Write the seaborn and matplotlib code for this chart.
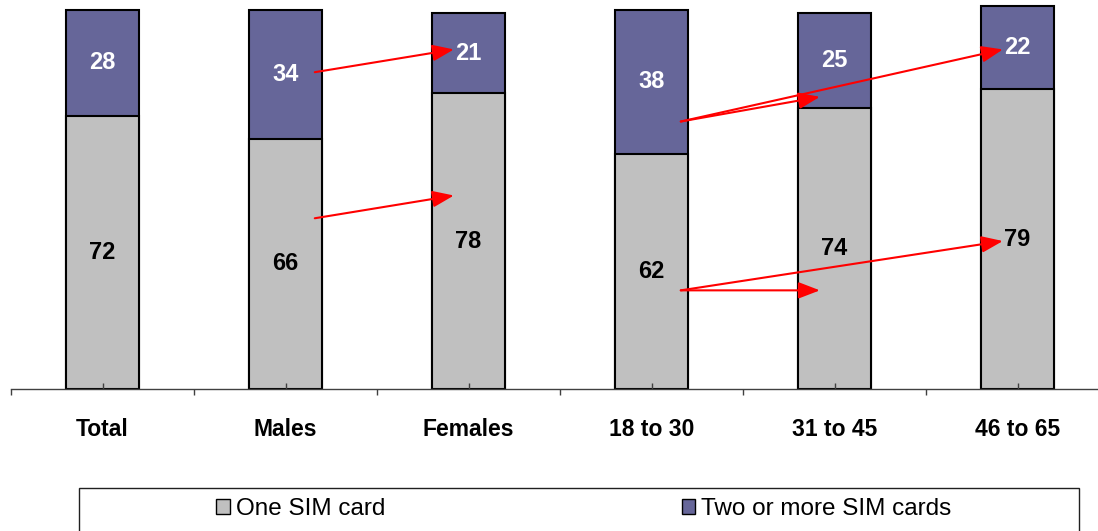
import numpy as np
import pandas as pd
import matplotlib
matplotlib.use("Agg")
import matplotlib.pyplot as plt
import seaborn as sns
from matplotlib.patches import Patch, Rectangle

# Share of respondents by number of SIM cards
groups = ["Total", "Males", "Females", "18 to 30", "31 to 45", "46 to 65"]
one_sim = [72, 66, 78, 62, 74, 79]
two_plus = [28, 34, 21, 38, 25, 22]

# Red comparison arrows: (from group, to group, y start, y end)
arrows = [
    ("Males", "Females", 83.5, 89.5),
    ("Males", "Females", 45, 51),
    ("18 to 30", "31 to 45", 70.5, 77),
    ("18 to 30", "46 to 65", 70.5, 89.5),
    ("18 to 30", "31 to 45", 26, 26),
    ("18 to 30", "46 to 65", 26, 39),
]

df = pd.DataFrame({"group": groups, "one": one_sim, "two": two_plus})
df["total"] = df["one"] + df["two"]

gray = "#C0C0C0"
purple = "#666699"

sns.set_style("white")
plt.rcParams["font.family"] = ["Liberation Sans", "DejaVu Sans"]

fig = plt.figure(figsize=(10.98, 5.31), dpi=100)
ax = fig.add_axes([11 / 1098, 142 / 531, 1.0, 387 / 531])

# stacked bars: draw the totals first, then the lower segment on top
sns.barplot(data=df, x="group", y="total", color=purple, width=0.4,
            edgecolor="black", linewidth=1.5, saturation=1, ax=ax)
sns.barplot(data=df, x="group", y="one", color=gray, width=0.4,
            edgecolor="black", linewidth=1.5, saturation=1, ax=ax)

# value labels in the middle of each segment
for i, row in df.iterrows():
    ax.text(i, row["one"] / 2, str(row["one"]), ha="center", va="center",
            fontsize=17, fontweight="bold", color="black")
    ax.text(i, row["one"] + row["two"] / 2, str(row["two"]), ha="center",
            va="center", fontsize=17, fontweight="bold", color="white")

# arrows between groups
pos = {g: i for i, g in enumerate(groups)}
for a, b, y0, y1 in arrows:
    ax.annotate("", xy=(pos[b] - 0.08, y1), xytext=(pos[a] + 0.16, y0),
                arrowprops=dict(arrowstyle="-|>,head_length=1.3,head_width=0.5",
                                color="red", lw=1.5, shrinkA=0, shrinkB=0))

ax.set_xlim(-0.5, 5.5)
ax.set_ylim(0, 102)
ax.set_xlabel("")
ax.set_ylabel("")
ax.set_yticks([])
ax.set_axisbelow(False)
for s in ["left", "right", "top"]:
    ax.spines[s].set_visible(False)
ax.spines["bottom"].set_color("#404040")
ax.spines["bottom"].set_linewidth(1)

ax.set_xticks(range(len(groups)))
ax.set_xticklabels(groups, fontsize=16.5, fontweight="bold", color="black")
ax.set_xticks(np.arange(-0.5, 6, 1), minor=True)
ax.tick_params(axis="x", which="major", bottom=True, direction="in", length=4.5,
               width=1, color="#404040", pad=21)
ax.tick_params(axis="x", which="minor", bottom=True, direction="out", length=4.5,
               width=1, color="#404040")

# legend box at the bottom
fig.patches.append(Rectangle((79 / 1098, -0.05), 1000 / 1098, (531 - 488) / 531 + 0.05,
                             transform=fig.transFigure, fill=False,
                             edgecolor="#202020", linewidth=1))
handles = [Patch(facecolor=gray, edgecolor="black", label="One SIM card"),
           Patch(facecolor=purple, edgecolor="black", label="Two or more SIM cards")]
fig.legend(handles=handles, loc="center", bbox_to_anchor=(584 / 1098, 1 - 509 / 531),
           ncol=2, frameon=False, fontsize=17.5, handlelength=0.55, handleheight=0.55,
           handletextpad=0.25, columnspacing=12.2, labelcolor="black")

fig.savefig("out.png", dpi=100)
